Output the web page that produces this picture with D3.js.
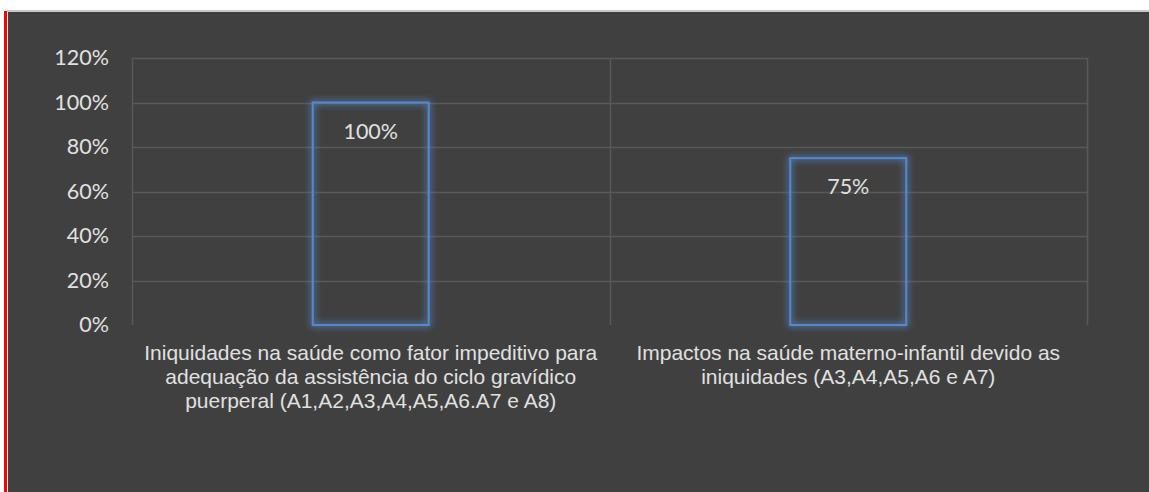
<!DOCTYPE html>
<html><head><meta charset="utf-8">
<script src="https://cdn.jsdelivr.net/npm/d3@7/dist/d3.min.js"></script>
<style>html,body{margin:0;padding:0;background:#fff;}svg{display:block;}</style>
</head><body>
<svg id="c" width="1149" height="492"></svg>
<script>
const categories = [
  ["Iniquidades na saúde como fator impeditivo para", "adequação da assistência do ciclo gravídico", "puerperal (A1,A2,A3,A4,A5,A6.A7 e A8)"],
  ["Impactos na saúde materno-infantil devido as", "iniquidades (A3,A4,A5,A6 e A7)"]
];
const values = [1.00, 0.75];
const valueLabels = ["100%", "75%"];
const yTicks = [0, 0.2, 0.4, 0.6, 0.8, 1.0, 1.2];

(function(){
const svg = d3.select("#c");
// frame
svg.append("rect").attr("x",0).attr("y",0).attr("width",1149).attr("height",492).attr("fill","#ffffff");
svg.append("rect").attr("x",7).attr("y",10).attr("width",1142).attr("height",2).attr("fill","#c8c8c8");
svg.append("rect").attr("x",8).attr("y",12).attr("width",1141).attr("height",480).attr("fill","#404040");
svg.append("rect").attr("x",4).attr("y",11).attr("width",3).attr("height",481).attr("fill","#ff0000");

const defs = svg.append("defs");
const f = defs.append("filter").attr("id","glow").attr("x","-30%").attr("y","-30%").attr("width","160%").attr("height","160%");
f.append("feGaussianBlur").attr("in","SourceGraphic").attr("stdDeviation",3.5).attr("result","b");
f.append("feComponentTransfer").attr("in","b").attr("result","b2")
  .append("feFuncA").attr("type","linear").attr("slope",1.6);
const m = f.append("feMerge");
m.append("feMergeNode").attr("in","b2");
m.append("feMergeNode").attr("in","SourceGraphic");

const pLeft = 132, pRight = 1087, pTop = 58, pBottom = 325;
const x = d3.scaleBand().domain(d3.range(categories.length)).range([pLeft, pRight]).paddingInner(0).paddingOuter(0);
const y = d3.scaleLinear().domain([0, 1.2]).range([pBottom, pTop]);

// horizontal gridlines
svg.append("g").selectAll("line").data(yTicks.filter(t => t > 0)).join("line")
  .attr("x1", pLeft).attr("x2", pRight)
  .attr("y1", d => Math.round(y(d)) + 0.5).attr("y2", d => Math.round(y(d)) + 0.5)
  .attr("stroke", "#585858").attr("stroke-width", 1.5);
// vertical gridlines at category boundaries
const bounds = [pLeft, ...d3.range(1, categories.length).map(i => x(i)), pRight];
svg.append("g").selectAll("line").data(bounds).join("line")
  .attr("x1", d => Math.round(d) + 0.5).attr("x2", d => Math.round(d) + 0.5)
  .attr("y1", pTop).attr("y2", pBottom)
  .attr("stroke", "#585858").attr("stroke-width", 1.5);

// y axis tick labels
const yAxis = d3.axisLeft(y).tickValues(yTicks).tickFormat(d => Math.round(d*100) + "%").tickSize(0).tickPadding(23);
const ga = svg.append("g").attr("transform", `translate(${pLeft},0)`).call(yAxis);
ga.select(".domain").remove();
ga.selectAll("text").attr("fill", "#e0e0e0").style("font-family", "Lato, 'Open Sans', sans-serif").style("font-size", "21.5px");

// bars
const barW = 116;
svg.append("g").selectAll("rect").data(values).join("rect")
  .attr("x", (d,i) => x(i) + x.bandwidth()/2 - barW/2)
  .attr("y", d => y(d))
  .attr("width", barW)
  .attr("height", d => y(0) - y(d))
  .attr("fill", "none")
  .attr("stroke", "#5588cc")
  .attr("stroke-width", 2)
  .attr("filter", "url(#glow)");

// value labels
svg.append("g").selectAll("text").data(values).join("text")
  .attr("x", (d,i) => x(i) + x.bandwidth()/2)
  .attr("y", d => y(d) + 28)
  .attr("text-anchor", "middle").attr("dominant-baseline", "central")
  .attr("fill", "#e0e0e0")
  .style("font-family", "Lato, 'Open Sans', sans-serif").style("font-size", "21.5px")
  .text((d,i) => valueLabels[i]);

// category labels
const cg = svg.append("g");
categories.forEach((lines, i) => {
  const t = cg.append("text")
    .attr("x", x(i) + x.bandwidth()/2)
    .attr("y", 352)
    .attr("text-anchor", "middle")
    .attr("fill", "#e0e0e0")
    .style("font-family", "'Liberation Sans', Arial, sans-serif").style("font-size", "21px");
  lines.forEach((l, j) => {
    t.append("tspan").attr("x", x(i) + x.bandwidth()/2).attr("y", 352 + j*24).attr("dominant-baseline","central").text(l);
  });
});
})();
</script>
</body></html>
